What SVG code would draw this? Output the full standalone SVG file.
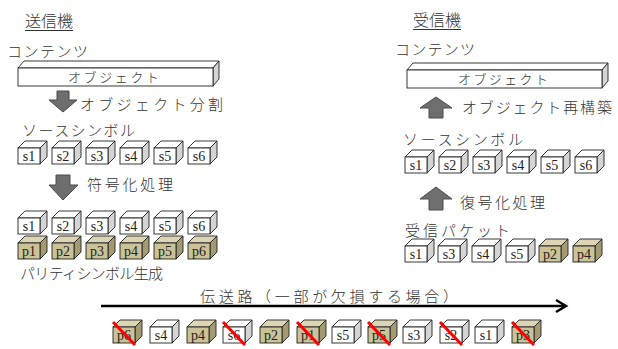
<svg xmlns="http://www.w3.org/2000/svg" xmlns:xlink="http://www.w3.org/1999/xlink" width="618" height="349" viewBox="0 0 618 349">
<style>
.t{font-family:"Liberation Serif","Noto Sans CJK JP",serif;font-size:15px;font-weight:300;fill:#333}
.tt{font-family:"Liberation Serif","Noto Sans CJK JP",serif;font-size:16px;font-weight:300;fill:#333}
.lb{font-family:"Liberation Serif","Noto Sans CJK JP",serif;font-size:14px;fill:#222;text-anchor:middle}
.ob{font-family:"Liberation Serif","Noto Sans CJK JP",serif;font-size:13px;font-weight:300;fill:#333}
.ar{fill:#6e6e6e;stroke:#4a4a4a;stroke-width:1}
.x{stroke:#ff0000;stroke-width:3;stroke-linecap:butt}
.ul{stroke:#333;stroke-width:1}
</style>
<defs>
<g id="cw">
<polygon points="0,0 7,-7 29,-7 22,0" fill="#ffffff" stroke="#222" stroke-width="0.9"/>
<polygon points="22,0 29,-7 29,9 22,16" fill="#d4d4d4" stroke="#222" stroke-width="0.9"/>
<rect x="0" y="0" width="22" height="16" fill="#ffffff" stroke="#222" stroke-width="0.9"/>
</g>
<g id="cp">
<polygon points="0,0 7,-7 29,-7 22,0" fill="#dcd5b3" stroke="#222" stroke-width="0.9"/>
<polygon points="22,0 29,-7 29,9 22,16" fill="#a39a72" stroke="#222" stroke-width="0.9"/>
<rect x="0" y="0" width="22" height="16" fill="#cbc298" stroke="#222" stroke-width="0.9"/>
</g>
</defs>

<g id="sender-title">
<text class="tt" x="25" y="27" textLength="48" lengthAdjust="spacingAndGlyphs">送信機</text>
<line class="ul" x1="25" y1="30.5" x2="73" y2="30.5"/>
</g>
<g id="receiver-title">
<text class="tt" x="413" y="26" textLength="48" lengthAdjust="spacingAndGlyphs">受信機</text>
<line class="ul" x1="413" y1="29.5" x2="461" y2="29.5"/>
</g>

<g id="sender-content">
<text class="t" x="7" y="57" textLength="81" lengthAdjust="spacing">コンテンツ</text>
<polygon points="18,68 24,61 219,61 213,68" fill="#fff" stroke="#222" stroke-width="0.9"/>
<polygon points="213,68 219,61 219,79 213,86" fill="#d4d4d4" stroke="#222" stroke-width="0.9"/>
<rect x="18" y="68" width="195" height="18" fill="#fff" stroke="#222" stroke-width="0.9"/>
<text class="ob" x="68" y="82" textLength="91" lengthAdjust="spacing">オブジェクト</text>
</g>

<g id="receiver-content">
<text class="t" x="395" y="55" textLength="80" lengthAdjust="spacing">コンテンツ</text>
<polygon points="407,70 413,63 608,63 602,70" fill="#fff" stroke="#222" stroke-width="0.9"/>
<polygon points="602,70 608,63 608,81 602,88" fill="#d4d4d4" stroke="#222" stroke-width="0.9"/>
<rect x="407" y="70" width="195" height="18" fill="#fff" stroke="#222" stroke-width="0.9"/>
<text class="ob" x="458" y="84" textLength="90" lengthAdjust="spacing">オブジェクト</text>
</g>

<g id="connectors">
<polygon class="ar" points="57,91 69,91 69,100 77,100 63,112 49,100 57,100"/>
<polygon class="ar" points="56,175 70,175 70,185 78,185 63,200 49,185 56,185"/>
<polygon class="ar" points="436,97 452,108 443,108 443,118 429,118 429,108 420,108"/>
<polygon class="ar" points="436,187 452,199 443,199 443,210 429,210 429,199 420,199"/>
<line x1="101" y1="306" x2="564" y2="306" stroke="#000" stroke-width="2.5"/>
<polyline points="556,300 566,306 556,312" fill="none" stroke="#000" stroke-width="2.5"/>
</g>

<g id="step-split"><text class="t" x="80" y="110" textLength="143" lengthAdjust="spacing">オブジェクト分割</text></g>
<g id="step-encode"><text class="t" x="87" y="190" textLength="86" lengthAdjust="spacing">符号化処理</text></g>
<g id="step-rebuild"><text class="t" x="462" y="113" textLength="150" lengthAdjust="spacing">オブジェクト再構築</text></g>
<g id="step-decode"><text class="t" x="460" y="208" textLength="85" lengthAdjust="spacing">復号化処理</text></g>
<g id="channel-label"><text class="t" x="200" y="302" textLength="258" lengthAdjust="spacing">伝送路（一部が欠損する場合）</text></g>

<g id="sender-source">
<text class="t" x="22" y="136" textLength="113" lengthAdjust="spacing">ソースシンボル</text>
<use xlink:href="#cw" x="18" y="148"/><text class="lb" x="29" y="161">s1</text>
<use xlink:href="#cw" x="52" y="148"/><text class="lb" x="63" y="161">s2</text>
<use xlink:href="#cw" x="86" y="148"/><text class="lb" x="97" y="161">s3</text>
<use xlink:href="#cw" x="120" y="148"/><text class="lb" x="131" y="161">s4</text>
<use xlink:href="#cw" x="154" y="148"/><text class="lb" x="165" y="161">s5</text>
<use xlink:href="#cw" x="188" y="148"/><text class="lb" x="199" y="161">s6</text>
</g>

<g id="sender-encoded-source">
<use xlink:href="#cw" x="18" y="218"/><text class="lb" x="29" y="231">s1</text>
<use xlink:href="#cw" x="52" y="218"/><text class="lb" x="63" y="231">s2</text>
<use xlink:href="#cw" x="86" y="218"/><text class="lb" x="97" y="231">s3</text>
<use xlink:href="#cw" x="120" y="218"/><text class="lb" x="131" y="231">s4</text>
<use xlink:href="#cw" x="154" y="218"/><text class="lb" x="165" y="231">s5</text>
<use xlink:href="#cw" x="188" y="218"/><text class="lb" x="199" y="231">s6</text>
</g>

<g id="sender-parity">
<use xlink:href="#cp" x="18" y="243"/><text class="lb" x="29" y="256">p1</text>
<use xlink:href="#cp" x="52" y="243"/><text class="lb" x="63" y="256">p2</text>
<use xlink:href="#cp" x="86" y="243"/><text class="lb" x="97" y="256">p3</text>
<use xlink:href="#cp" x="120" y="243"/><text class="lb" x="131" y="256">p4</text>
<use xlink:href="#cp" x="154" y="243"/><text class="lb" x="165" y="256">p5</text>
<use xlink:href="#cp" x="188" y="243"/><text class="lb" x="199" y="256">p6</text>
<text class="t" x="20" y="279" textLength="143" lengthAdjust="spacing">パリティシンボル生成</text>
</g>

<g id="receiver-source">
<text class="t" x="403" y="145" textLength="120" lengthAdjust="spacing">ソースシンボル</text>
<use xlink:href="#cw" x="405" y="157"/><text class="lb" x="416" y="170">s1</text>
<use xlink:href="#cw" x="439" y="157"/><text class="lb" x="450" y="170">s2</text>
<use xlink:href="#cw" x="473" y="157"/><text class="lb" x="484" y="170">s3</text>
<use xlink:href="#cw" x="507" y="157"/><text class="lb" x="518" y="170">s4</text>
<use xlink:href="#cw" x="541" y="157"/><text class="lb" x="552" y="170">s5</text>
<use xlink:href="#cw" x="575" y="157"/><text class="lb" x="586" y="170">s6</text>
</g>

<g id="receiver-packets">
<text class="t" x="405" y="236" textLength="105" lengthAdjust="spacing">受信パケット</text>
<use xlink:href="#cw" x="405" y="246"/><text class="lb" x="416" y="259">s1</text>
<use xlink:href="#cw" x="438" y="246"/><text class="lb" x="449" y="259">s3</text>
<use xlink:href="#cw" x="472" y="246"/><text class="lb" x="483" y="259">s4</text>
<use xlink:href="#cw" x="506" y="246"/><text class="lb" x="517" y="259">s5</text>
<use xlink:href="#cp" x="539" y="246"/><text class="lb" x="550" y="259">p2</text>
<use xlink:href="#cp" x="573" y="246"/><text class="lb" x="584" y="259">p4</text>
</g>

<g id="channel-packets">
<use xlink:href="#cp" x="113" y="327"/><text class="lb" x="124" y="340">p6</text><line class="x" x1="113" y1="322" x2="135" y2="345"/>
<use xlink:href="#cw" x="150" y="327"/><text class="lb" x="161" y="340">s4</text>
<use xlink:href="#cp" x="187" y="327"/><text class="lb" x="198" y="340">p4</text>
<use xlink:href="#cw" x="223" y="327"/><text class="lb" x="234" y="340">s6</text><line class="x" x1="223" y1="322" x2="245" y2="345"/>
<use xlink:href="#cp" x="260" y="327"/><text class="lb" x="271" y="340">p2</text>
<use xlink:href="#cp" x="297" y="327"/><text class="lb" x="308" y="340">p1</text><line class="x" x1="297" y1="322" x2="319" y2="345"/>
<use xlink:href="#cw" x="332" y="327"/><text class="lb" x="343" y="340">s5</text>
<use xlink:href="#cp" x="368" y="327"/><text class="lb" x="379" y="340">p5</text><line class="x" x1="368" y1="322" x2="390" y2="345"/>
<use xlink:href="#cw" x="403" y="327"/><text class="lb" x="414" y="340">s3</text>
<use xlink:href="#cw" x="440" y="327"/><text class="lb" x="451" y="340">s2</text><line class="x" x1="440" y1="322" x2="462" y2="345"/>
<use xlink:href="#cw" x="475" y="327"/><text class="lb" x="486" y="340">s1</text>
<use xlink:href="#cp" x="512" y="327"/><text class="lb" x="523" y="340">p3</text><line class="x" x1="512" y1="322" x2="534" y2="345"/>
</g>
</svg>
